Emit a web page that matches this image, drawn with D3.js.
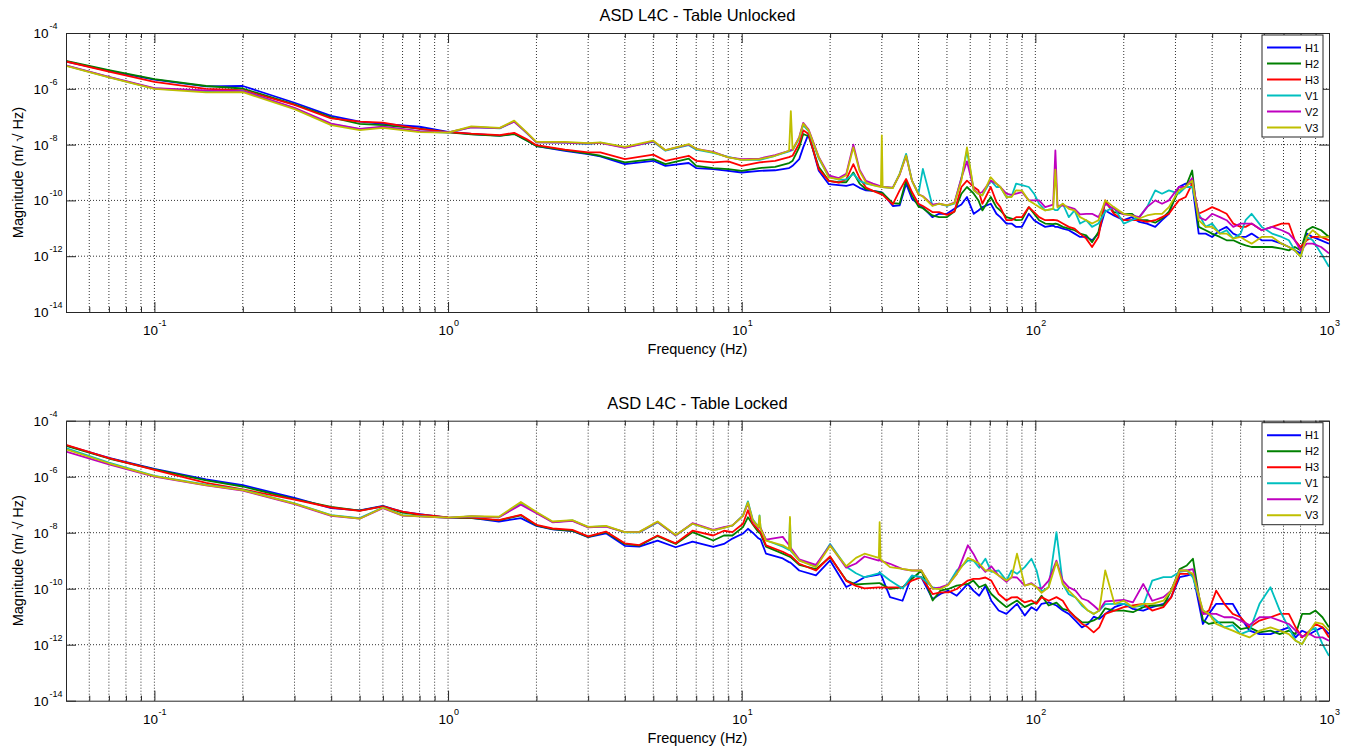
<!DOCTYPE html>
<html><head><meta charset="utf-8">
<script src="https://cdn.jsdelivr.net/npm/d3@7"></script>
<style>
body{margin:0;background:#fff;}
svg{display:block;}
text{font-family:"Liberation Sans",Arial,sans-serif;fill:#000;}
</style>
</head><body>
<svg id="chart" width="1351" height="748"></svg>
<script>
// ---------- data ----------
const seriesNames = ["H1","H2","H3","V1","V2","V3"];
const seriesColors = ["#0000ff","#008000","#ff0000","#00bfbf","#bf00bf","#bfbf00"];
const yTickExponents = [-14,-12,-10,-8,-6,-4];
const xTickExponents = [-1,0,1,2,3];
const panelTitles = ["ASD L4C - Table Unlocked","ASD L4C - Table Locked"];

// Panel 1: table unlocked. Frequencies in Hz, magnitudes as log10(m/√Hz)
const freqUnlocked = [0.05,0.07,0.1,0.15,0.2,0.3,0.4,0.5,0.6,0.8,
  1.0,1.2,1.5,1.68,1.85,2.0,2.5,3.0,3.3,4.0,
  5.0,5.5,6.6,7.0,8.0,9.0,10,11.5,13,14.5,
  14.7,14.9,15.7,16.2,16.9,18.3,19.8,21.4,24,26.5,
  29.8,30,30.2,32.7,34.5,36.3,40,41.4,44.6,50,
  53,56,58.5,61.7,66,70.5,73.7,79.7,86,95,
  103,115,117,119,130,142,156,164,173,200,
  226,256,285,308,342,360,400,448,500,545,
  640,730,800,880,1000];
const h1Unlocked = [-5.02,-5.36,-5.67,-5.91,-5.90,-6.50,-6.97,-7.18,-7.26,-7.36,
  -7.54,-7.62,-7.68,-7.61,-7.84,-8.05,-8.22,-8.34,-8.42,-8.70,
  -8.58,-8.76,-8.66,-8.84,-8.88,-8.94,-9.00,-8.94,-8.92,-8.84,
  -8.80,-8.76,-8.52,-8.10,-7.61,-8.94,-9.42,-9.45,-9.42,-9.64,
  -9.70,-9.72,-9.74,-10.20,-10.18,-9.40,-10.14,-10.25,-10.60,-10.48,
  -10.30,-10.15,-9.88,-10.48,-10.24,-10.12,-10.48,-10.83,-10.95,-10.48,
  -10.83,-10.90,-10.95,-10.95,-11.07,-11.31,-11.43,-11.19,-10.36,-10.71,
  -10.77,-10.95,-10.48,-9.52,-9.40,-11.19,-11.31,-10.95,-11.31,-11.19,
  -11.43,-11.67,-11.90,-11.31,-11.55];
const h2Unlocked = [-5.00,-5.33,-5.65,-5.90,-5.99,-6.56,-7.02,-7.26,-7.30,-7.43,
  -7.56,-7.63,-7.69,-7.62,-7.85,-8.05,-8.20,-8.32,-8.40,-8.64,
  -8.52,-8.70,-8.50,-8.76,-8.84,-8.88,-8.94,-8.84,-8.80,-8.66,
  -8.62,-8.58,-8.10,-7.62,-7.70,-8.80,-9.30,-9.35,-9.00,-9.60,
  -9.72,-9.72,-9.74,-10.10,-10.12,-9.28,-10.22,-10.28,-10.54,-10.60,
  -10.40,-9.76,-9.52,-9.76,-10.36,-9.88,-10.24,-10.60,-10.71,-10.24,
  -10.71,-10.85,-10.83,-10.85,-11.01,-11.19,-11.50,-11.13,-10.06,-10.48,
  -10.70,-10.80,-10.40,-9.64,-8.93,-10.95,-11.19,-11.43,-11.55,-11.67,
  -11.67,-11.79,-11.79,-10.95,-11.31];
const h3Unlocked = [-5.02,-5.38,-5.75,-6.00,-6.05,-6.58,-7.06,-7.18,-7.21,-7.44,
  -7.55,-7.61,-7.66,-7.58,-7.80,-8.02,-8.18,-8.28,-8.28,-8.52,
  -8.36,-8.58,-8.40,-8.58,-8.64,-8.60,-8.76,-8.64,-8.58,-8.45,
  -8.42,-8.40,-7.96,-7.49,-7.62,-8.88,-9.30,-9.36,-8.70,-9.54,
  -9.78,-9.78,-9.80,-10.14,-9.64,-9.23,-10.12,-10.20,-10.42,-10.52,
  -10.40,-9.52,-9.29,-9.52,-10.12,-9.52,-10.06,-10.71,-10.60,-10.24,
  -10.60,-10.70,-10.71,-10.72,-10.95,-11.19,-11.67,-11.31,-10.00,-10.71,
  -10.71,-10.71,-10.48,-10.00,-9.40,-10.48,-10.24,-10.48,-10.95,-10.83,
  -10.95,-10.83,-11.67,-11.31,-11.43];
const v1Unlocked = [-5.17,-5.58,-5.99,-6.08,-6.07,-6.70,-7.27,-7.45,-7.37,-7.53,
  -7.57,-7.37,-7.42,-7.17,-7.58,-7.92,-7.93,-7.98,-7.93,-8.10,
  -7.90,-8.22,-8.02,-8.18,-8.30,-8.44,-8.55,-8.55,-8.40,-8.24,
  -8.22,-8.20,-7.78,-7.30,-7.52,-8.50,-9.15,-9.26,-9.05,-9.40,
  -9.50,-9.50,-9.52,-9.55,-9.05,-8.33,-9.76,-8.87,-10.18,-10.20,
  -10.12,-9.20,-8.22,-9.64,-9.82,-9.29,-9.52,-9.88,-9.40,-9.52,
  -10.12,-10.30,-10.35,-10.35,-10.60,-10.83,-10.95,-10.83,-10.40,-10.83,
  -10.60,-9.64,-9.64,-9.76,-9.52,-10.48,-10.83,-11.07,-11.19,-10.48,
  -11.19,-11.43,-12.02,-11.43,-12.38];
const v2Unlocked = [-5.16,-5.57,-5.98,-6.06,-6.08,-6.68,-7.25,-7.44,-7.36,-7.52,
  -7.56,-7.38,-7.41,-7.18,-7.57,-7.92,-7.93,-7.96,-7.94,-8.12,
  -7.88,-8.20,-8.00,-8.15,-8.26,-8.46,-8.52,-8.50,-8.38,-8.22,
  -8.20,-8.18,-7.73,-7.22,-7.46,-8.44,-9.10,-9.20,-8.00,-9.30,
  -9.50,-9.50,-9.52,-9.54,-9.08,-8.40,-9.78,-9.85,-10.15,-10.18,
  -10.08,-9.20,-8.60,-9.60,-9.70,-9.29,-9.40,-9.76,-9.76,-10.00,
  -10.00,-10.15,-8.21,-10.20,-10.24,-10.50,-10.48,-10.60,-10.12,-10.50,
  -10.60,-10.00,-10.00,-9.52,-9.20,-10.60,-10.48,-10.71,-10.83,-10.83,
  -10.95,-11.19,-11.79,-11.55,-11.90];
const v3Unlocked = [-5.18,-5.59,-6.00,-6.13,-6.12,-6.73,-7.30,-7.48,-7.40,-7.55,
  -7.57,-7.35,-7.40,-7.14,-7.55,-7.90,-7.90,-7.95,-7.92,-8.08,
  -7.86,-8.20,-7.98,-8.15,-8.28,-8.46,-8.55,-8.52,-8.40,-8.22,
  -6.80,-8.18,-7.75,-7.25,-7.49,-8.46,-9.18,-9.24,-8.10,-9.36,
  -9.52,-7.67,-9.52,-9.56,-9.06,-8.39,-9.78,-9.86,-10.20,-10.18,
  -10.10,-9.29,-8.10,-9.64,-9.82,-9.17,-9.40,-9.88,-9.64,-10.00,
  -10.24,-10.30,-8.90,-10.25,-10.30,-10.60,-10.83,-10.71,-10.00,-10.48,
  -10.65,-10.48,-10.24,-9.64,-9.29,-10.71,-10.95,-11.19,-11.31,-11.55,
  -11.31,-11.67,-12.02,-11.07,-11.31];

// Panel 1, additional readings in the noisy high-frequency band
const freqUnlockedFine = [22.7,25.2,28,38,47,64,76,83,90,99,
  108,124,136,149,185,213,240,270,325,380,
  425,472,520,590,690,765,840,940];
const h1UnlockedFine = [-9.48,-9.55,-9.66,-9.94,-10.48,-10.36,-10.60,-10.83,-10.95,-10.71,
  -10.95,-11.01,-11.19,-11.31,-10.54,-10.60,-10.83,-10.71,-9.40,-11.19,
  -11.07,-11.19,-11.31,-11.43,-11.55,-11.79,-11.19,-11.43];
const h2UnlockedFine = [-9.35,-9.40,-9.66,-9.82,-10.60,-10.00,-10.36,-10.65,-10.70,-10.48,
  -10.83,-10.95,-11.07,-11.25,-10.42,-10.48,-10.71,-10.65,-9.52,-11.07,
  -11.31,-11.43,-11.61,-11.67,-11.73,-11.67,-11.07,-11.07];
const h3UnlockedFine = [-9.25,-9.20,-9.66,-9.70,-10.42,-9.64,-10.24,-10.71,-10.60,-10.42,
  -10.71,-10.83,-11.01,-11.37,-10.48,-10.71,-10.77,-10.60,-9.88,-10.36,
  -10.36,-10.83,-10.95,-11.07,-10.83,-11.43,-11.43,-11.31];
const v1UnlockedFine = [-9.25,-9.30,-9.45,-9.29,-10.12,-9.76,-9.52,-9.85,-9.45,-9.76,
  -10.36,-10.12,-10.36,-10.71,-10.24,-10.71,-10.24,-9.76,-9.52,-10.95,
  -11.19,-11.37,-10.71,-10.95,-11.31,-11.79,-11.31,-11.90];
const v2UnlockedFine = [-9.05,-8.90,-9.40,-9.29,-10.12,-9.76,-9.52,-9.80,-9.70,-10.00,
  -10.24,-10.18,-10.30,-10.48,-10.30,-10.54,-10.24,-10.12,-9.52,-10.71,
  -10.60,-10.95,-10.83,-11.07,-11.07,-11.43,-11.55,-11.67];
const v3UnlockedFine = [-9.10,-8.95,-9.45,-9.29,-10.12,-9.76,-9.52,-9.88,-9.65,-10.12,
  -10.36,-10.12,-10.36,-10.71,-10.24,-10.54,-10.54,-10.48,-9.52,-10.95,
  -11.19,-11.37,-11.43,-11.31,-11.55,-11.79,-11.31,-11.31];

// Panel 2: table locked
const freqLocked = [0.05,0.07,0.1,0.15,0.2,0.3,0.4,0.5,0.6,0.7,
  0.8,1.0,1.2,1.49,1.77,2.0,2.27,2.65,3.0,3.45,
  4.0,4.48,5.17,5.96,6.8,8.0,8.7,9.3,10.1,10.5,
  10.9,11.4,11.5,11.6,12.1,13.8,14.5,14.6,14.7,15.7,
  17.9,20,22.7,26.2,29.3,29.5,29.7,35.3,40.9,44.7,
  50.5,58.9,64.4,67.6,70.8,79.7,86.6,97,105,118,
  130,144,158,173,200,233,273,310,344,372,
  413,470,536,632,730,810,900,1000];
const h1Locked = [-4.88,-5.33,-5.72,-6.10,-6.30,-6.76,-7.12,-7.20,-7.04,-7.26,
  -7.34,-7.46,-7.47,-7.60,-7.48,-7.76,-7.88,-7.94,-8.16,-8.02,
  -8.47,-8.50,-8.28,-8.52,-8.32,-8.51,-8.40,-8.21,-8.03,-7.86,
  -8.00,-8.20,-8.22,-8.24,-8.75,-8.92,-9.05,-9.06,-9.08,-9.35,
  -9.52,-8.99,-9.94,-9.59,-9.50,-9.41,-9.45,-10.43,-9.59,-10.37,
  -10.07,-9.83,-10.25,-9.90,-10.43,-10.90,-10.54,-10.66,-10.54,-10.60,
  -10.90,-11.38,-11.00,-10.90,-10.54,-10.78,-10.54,-9.59,-9.47,-11.26,
  -10.54,-10.54,-11.50,-11.62,-11.38,-11.50,-11.50,-11.62];
const h2Locked = [-4.90,-5.35,-5.74,-6.13,-6.35,-6.80,-7.08,-7.21,-7.06,-7.28,
  -7.36,-7.46,-7.48,-7.56,-7.38,-7.74,-7.87,-7.93,-8.15,-7.98,
  -8.40,-8.46,-8.12,-8.40,-7.98,-8.28,-8.10,-8.10,-7.80,-7.45,
  -7.70,-7.98,-8.00,-8.04,-8.50,-8.75,-8.85,-8.86,-8.88,-9.15,
  -9.30,-8.87,-9.70,-9.83,-9.80,-9.80,-9.82,-9.95,-9.35,-10.42,
  -10.01,-9.83,-9.95,-9.85,-10.19,-10.66,-10.42,-10.54,-10.25,-10.50,
  -10.78,-11.20,-11.13,-10.70,-10.78,-10.66,-10.60,-9.30,-8.93,-11.13,
  -11.20,-11.20,-11.38,-11.50,-11.50,-10.90,-10.78,-11.38];
const h3Locked = [-4.86,-5.34,-5.76,-6.22,-6.45,-6.82,-7.10,-7.22,-7.06,-7.25,
  -7.35,-7.45,-7.46,-7.55,-7.36,-7.72,-7.85,-7.90,-8.13,-7.96,
  -8.38,-8.44,-8.10,-8.38,-7.93,-8.10,-7.93,-7.98,-7.68,-7.20,
  -7.68,-7.90,-7.95,-7.98,-8.45,-8.68,-8.80,-8.80,-8.82,-9.11,
  -9.35,-8.85,-9.72,-9.99,-9.95,-9.95,-9.96,-9.95,-9.59,-10.19,
  -10.13,-9.71,-9.65,-9.60,-9.71,-10.42,-10.30,-10.42,-10.30,-10.30,
  -10.78,-11.25,-11.56,-10.90,-10.66,-10.54,-10.66,-9.47,-9.47,-10.90,
  -10.07,-10.90,-11.38,-11.02,-10.90,-11.74,-11.26,-11.74];
const v1Locked = [-4.98,-5.50,-5.97,-6.28,-6.47,-6.95,-7.37,-7.48,-7.10,-7.37,
  -7.41,-7.47,-7.42,-7.45,-6.95,-7.28,-7.62,-7.56,-7.80,-7.77,
  -7.99,-7.99,-7.63,-8.10,-7.68,-7.92,-7.82,-7.75,-7.38,-6.88,
  -7.52,-7.80,-7.38,-7.85,-8.27,-8.50,-8.62,-7.50,-8.66,-8.99,
  -9.20,-8.40,-9.22,-9.59,-9.45,-9.41,-9.45,-9.99,-9.59,-9.95,
  -9.85,-9.00,-9.25,-8.93,-9.40,-9.71,-9.47,-8.93,-10.10,-7.98,
  -10.20,-10.60,-10.90,-10.55,-10.54,-10.60,-9.59,-9.40,-9.60,-10.78,
  -11.13,-11.30,-11.50,-9.95,-11.40,-11.98,-11.40,-12.40];
const v2Locked = [-5.10,-5.56,-6.00,-6.31,-6.50,-6.98,-7.40,-7.50,-7.12,-7.39,
  -7.42,-7.47,-7.42,-7.45,-7.00,-7.30,-7.63,-7.58,-7.81,-7.78,
  -7.98,-7.98,-7.62,-8.10,-7.66,-7.90,-7.80,-7.74,-7.40,-6.95,
  -7.58,-7.82,-7.80,-7.84,-8.25,-8.15,-8.45,-8.50,-8.55,-8.95,
  -9.15,-8.45,-9.25,-8.85,-9.00,-8.93,-9.00,-9.30,-9.35,-10.00,
  -9.85,-8.45,-9.15,-9.40,-9.20,-9.75,-9.60,-9.80,-10.00,-9.00,
  -9.95,-10.35,-10.60,-10.45,-10.40,-9.83,-10.30,-9.35,-9.30,-10.90,
  -10.90,-11.02,-11.30,-11.02,-11.26,-11.70,-11.74,-11.86];
const v3Locked = [-5.02,-5.52,-5.98,-6.30,-6.48,-6.96,-7.38,-7.50,-7.11,-7.38,
  -7.42,-7.46,-7.41,-7.43,-6.90,-7.26,-7.60,-7.55,-7.79,-7.76,
  -7.98,-7.97,-7.60,-8.08,-7.68,-7.92,-7.83,-7.74,-7.40,-6.92,
  -7.55,-7.80,-7.40,-7.86,-8.28,-8.45,-8.58,-7.44,-8.62,-8.99,
  -9.23,-8.47,-9.20,-8.75,-8.90,-7.62,-8.95,-9.29,-9.35,-10.00,
  -9.87,-8.90,-9.10,-9.35,-9.35,-9.71,-8.75,-9.83,-10.15,-9.05,
  -10.07,-10.54,-10.90,-9.35,-10.43,-10.54,-10.43,-9.35,-9.47,-10.78,
  -11.26,-11.50,-11.74,-11.38,-11.62,-11.98,-11.20,-11.50];

// Panel 2, additional readings in the noisy high-frequency band
const freqLockedFine = [24.5,32,38,47.5,54,61.5,75,83,92,101,
  111,124,137,151,165,186,215,250,290,328,
  390,440,500,580,680,770,860,950];
const h1LockedFine = [-9.77,-10.30,-9.53,-10.19,-10.25,-10.07,-10.78,-10.72,-10.96,-10.78,
  -10.49,-10.78,-11.14,-11.26,-11.08,-10.66,-10.72,-10.66,-10.31,-9.53,
  -10.90,-10.54,-11.02,-11.62,-11.50,-11.74,-11.62,-11.38];
const h2LockedFine = [-9.85,-10.01,-9.65,-10.07,-9.89,-9.71,-10.43,-10.54,-10.66,-10.49,
  -10.60,-10.72,-11.02,-11.20,-11.02,-10.78,-10.84,-10.60,-10.07,-9.17,
  -11.26,-11.20,-11.44,-11.56,-11.62,-11.62,-10.90,-11.02];
const h3LockedFine = [-9.90,-9.95,-9.71,-10.13,-10.01,-9.65,-10.19,-10.31,-10.49,-10.54,
  -10.43,-10.43,-11.02,-11.38,-11.38,-10.78,-10.60,-10.78,-10.31,-9.47,
  -10.78,-10.54,-11.02,-11.14,-10.90,-11.38,-11.50,-11.38];
const v1LockedFine = [-9.45,-9.71,-9.53,-10.01,-9.35,-8.99,-9.35,-9.35,-9.23,-9.35,
  -9.95,-9.83,-10.31,-10.78,-10.78,-10.54,-10.66,-9.71,-9.59,-9.35,
  -10.90,-11.38,-11.62,-10.54,-10.78,-11.86,-11.50,-11.98];
const v2LockedFine = [-9.10,-9.11,-9.35,-9.95,-9.47,-8.75,-9.53,-9.59,-9.89,-9.95,
  -9.71,-9.71,-10.07,-10.43,-10.78,-10.43,-10.49,-10.43,-10.07,-9.35,
  -10.90,-11.02,-11.14,-11.02,-11.14,-11.50,-11.62,-11.74];
const v3LockedFine = [-8.90,-9.23,-9.35,-10.01,-9.47,-8.99,-9.53,-9.59,-9.89,-9.95,
  -9.95,-9.83,-10.31,-10.78,-10.78,-10.54,-10.66,-10.54,-10.07,-9.35,
  -10.90,-11.38,-11.62,-11.50,-11.50,-11.86,-11.50,-11.26];

// ---------- drawing ----------
const svg = d3.select("#chart");
const xLeft = 66, xRight = 1329;
function mergeSeries(freqA, valsA, freqB, valsB) {
  const pts = freqA.map((f, i) => ({f, v: valsA[i]}))
    .concat(freqB.map((f, i) => ({f, v: valsB[i]})));
  return pts.sort((a, b) => a.f - b.f);
}
const panels = [
  {title: panelTitles[0], top: 33, bottom: 312,
   series: [
     mergeSeries(freqUnlocked, h1Unlocked, freqUnlockedFine, h1UnlockedFine),
     mergeSeries(freqUnlocked, h2Unlocked, freqUnlockedFine, h2UnlockedFine),
     mergeSeries(freqUnlocked, h3Unlocked, freqUnlockedFine, h3UnlockedFine),
     mergeSeries(freqUnlocked, v1Unlocked, freqUnlockedFine, v1UnlockedFine),
     mergeSeries(freqUnlocked, v2Unlocked, freqUnlockedFine, v2UnlockedFine),
     mergeSeries(freqUnlocked, v3Unlocked, freqUnlockedFine, v3UnlockedFine)]},
  {title: panelTitles[1], top: 420.7, bottom: 700.7,
   series: [
     mergeSeries(freqLocked, h1Locked, freqLockedFine, h1LockedFine),
     mergeSeries(freqLocked, h2Locked, freqLockedFine, h2LockedFine),
     mergeSeries(freqLocked, h3Locked, freqLockedFine, h3LockedFine),
     mergeSeries(freqLocked, v1Locked, freqLockedFine, v1LockedFine),
     mergeSeries(freqLocked, v2Locked, freqLockedFine, v2LockedFine),
     mergeSeries(freqLocked, v3Locked, freqLockedFine, v3LockedFine)]}
];
const axisColor = "#262626";

panels.forEach((p, idx) => {
  const x = d3.scaleLog().domain([0.05, 1000]).range([xLeft, xRight]);
  const y = d3.scaleLog().domain([1e-14, 1e-4]).range([p.bottom, p.top]);
  const g = svg.append("g");

  g.append("rect").attr("x", xLeft).attr("y", p.top)
    .attr("width", xRight - xLeft).attr("height", p.bottom - p.top).attr("fill", "#fff");

  const allX = x.ticks().filter(d => d > 0.0501 && d < 999);
  const majorX = xTickExponents.map(e => Math.pow(10, e));
  const minorX = allX.filter(d => !majorX.some(m => Math.abs(m - d) / m < 1e-6));
  const yVals = yTickExponents.map(e => Math.pow(10, e));

  // grid
  g.append("g").selectAll("line").data(allX).join("line")
    .attr("x1", d => x(d)).attr("x2", d => x(d))
    .attr("y1", p.top).attr("y2", p.bottom)
    .attr("stroke", "#333").attr("stroke-width", 1).attr("stroke-dasharray", "1,2");
  g.append("g").selectAll("line").data(yVals.filter(v => v > 1e-14 && v < 1e-4)).join("line")
    .attr("x1", xLeft).attr("x2", xRight)
    .attr("y1", d => y(d)).attr("y2", d => y(d))
    .attr("stroke", "#333").attr("stroke-width", 1).attr("stroke-dasharray", "1,2");

  // clip + series
  const clipId = "clip" + idx;
  svg.append("clipPath").attr("id", clipId).append("rect")
    .attr("x", xLeft).attr("y", p.top).attr("width", xRight - xLeft).attr("height", p.bottom - p.top);
  const lg = g.append("g").attr("clip-path", `url(#${clipId})`);
  const line = d3.line().x(d => x(d.f)).y(d => y(Math.pow(10, d.v)));
  p.series.forEach((s, k) => {
    lg.append("path").datum(s).attr("d", line)
      .attr("fill", "none").attr("stroke", seriesColors[k])
      .attr("stroke-width", 1.8).attr("stroke-linejoin", "round");
  });

  // axes with inward ticks
  const styleAxis = sel => { sel.selectAll("path,line").attr("stroke", axisColor); sel.selectAll("text").remove(); };
  g.append("g").attr("transform", `translate(0,${p.bottom})`)
    .call(d3.axisBottom(x).tickValues(majorX).tickSizeInner(-10).tickSizeOuter(0).tickFormat("")).call(styleAxis);
  g.append("g").attr("transform", `translate(0,${p.bottom})`)
    .call(d3.axisBottom(x).tickValues(minorX).tickSizeInner(-5).tickSizeOuter(0).tickFormat("")).call(styleAxis)
    .select(".domain").remove();
  g.append("g").attr("transform", `translate(0,${p.top})`)
    .call(d3.axisTop(x).tickValues(majorX).tickSizeInner(-10).tickSizeOuter(0).tickFormat("")).call(styleAxis);
  g.append("g").attr("transform", `translate(0,${p.top})`)
    .call(d3.axisTop(x).tickValues(minorX).tickSizeInner(-5).tickSizeOuter(0).tickFormat("")).call(styleAxis)
    .select(".domain").remove();
  g.append("g").attr("transform", `translate(${xLeft},0)`)
    .call(d3.axisLeft(y).tickValues(yVals).tickSizeInner(-10).tickSizeOuter(0).tickFormat("")).call(styleAxis);
  g.append("g").attr("transform", `translate(${xRight},0)`)
    .call(d3.axisRight(y).tickValues(yVals).tickSizeInner(-10).tickSizeOuter(0).tickFormat("")).call(styleAxis);

  // y tick labels
  yTickExponents.forEach(e => {
    const yy = y(Math.pow(10, e));
    g.append("text").attr("x", 48.5).attr("y", yy + 5).attr("text-anchor", "end")
      .attr("font-size", 13.5).text("10");
    g.append("text").attr("x", 49.5).attr("y", yy - 4).attr("text-anchor", "start")
      .attr("font-size", 9).text(String(e));
  });
  // x tick labels
  xTickExponents.forEach(e => {
    const xx = x(Math.pow(10, e));
    const off = e < 0 ? 4 : 2;
    g.append("text").attr("x", xx - off).attr("y", p.bottom + 23).attr("text-anchor", "middle")
      .attr("font-size", 13.5).text("10");
    g.append("text").attr("x", xx - off + 8).attr("y", p.bottom + 14).attr("text-anchor", "start")
      .attr("font-size", 9).text(String(e));
  });

  // title and axis labels
  const cx = (xLeft + xRight) / 2;
  g.append("text").attr("x", cx).attr("y", p.top - 12).attr("text-anchor", "middle")
    .attr("font-size", 16.5).text(p.title);
  g.append("text").attr("x", cx).attr("y", p.bottom + 42).attr("text-anchor", "middle")
    .attr("font-size", 14.5).text("Frequency (Hz)");
  g.append("text").attr("transform", `translate(23,${(p.top + p.bottom) / 2}) rotate(-90)`)
    .attr("text-anchor", "middle").attr("font-size", 14.5).text("Magnitude (m/ \u221A Hz)");

  // legend
  const lx = 1262, ly = p.top + 2, lw = 61, lh = 102;
  const leg = g.append("g");
  leg.append("rect").attr("x", lx).attr("y", ly).attr("width", lw).attr("height", lh)
    .attr("fill", "#fff").attr("stroke", axisColor).attr("stroke-width", 1);
  seriesNames.forEach((n, k) => {
    const yy = ly + 12.5 + 16 * k;
    leg.append("line").attr("x1", lx + 5).attr("x2", lx + 39).attr("y1", yy).attr("y2", yy)
      .attr("stroke", seriesColors[k]).attr("stroke-width", 2);
    leg.append("text").attr("x", lx + 43).attr("y", yy + 4).attr("font-size", 11).text(n);
  });
});
</script>
</body></html>
